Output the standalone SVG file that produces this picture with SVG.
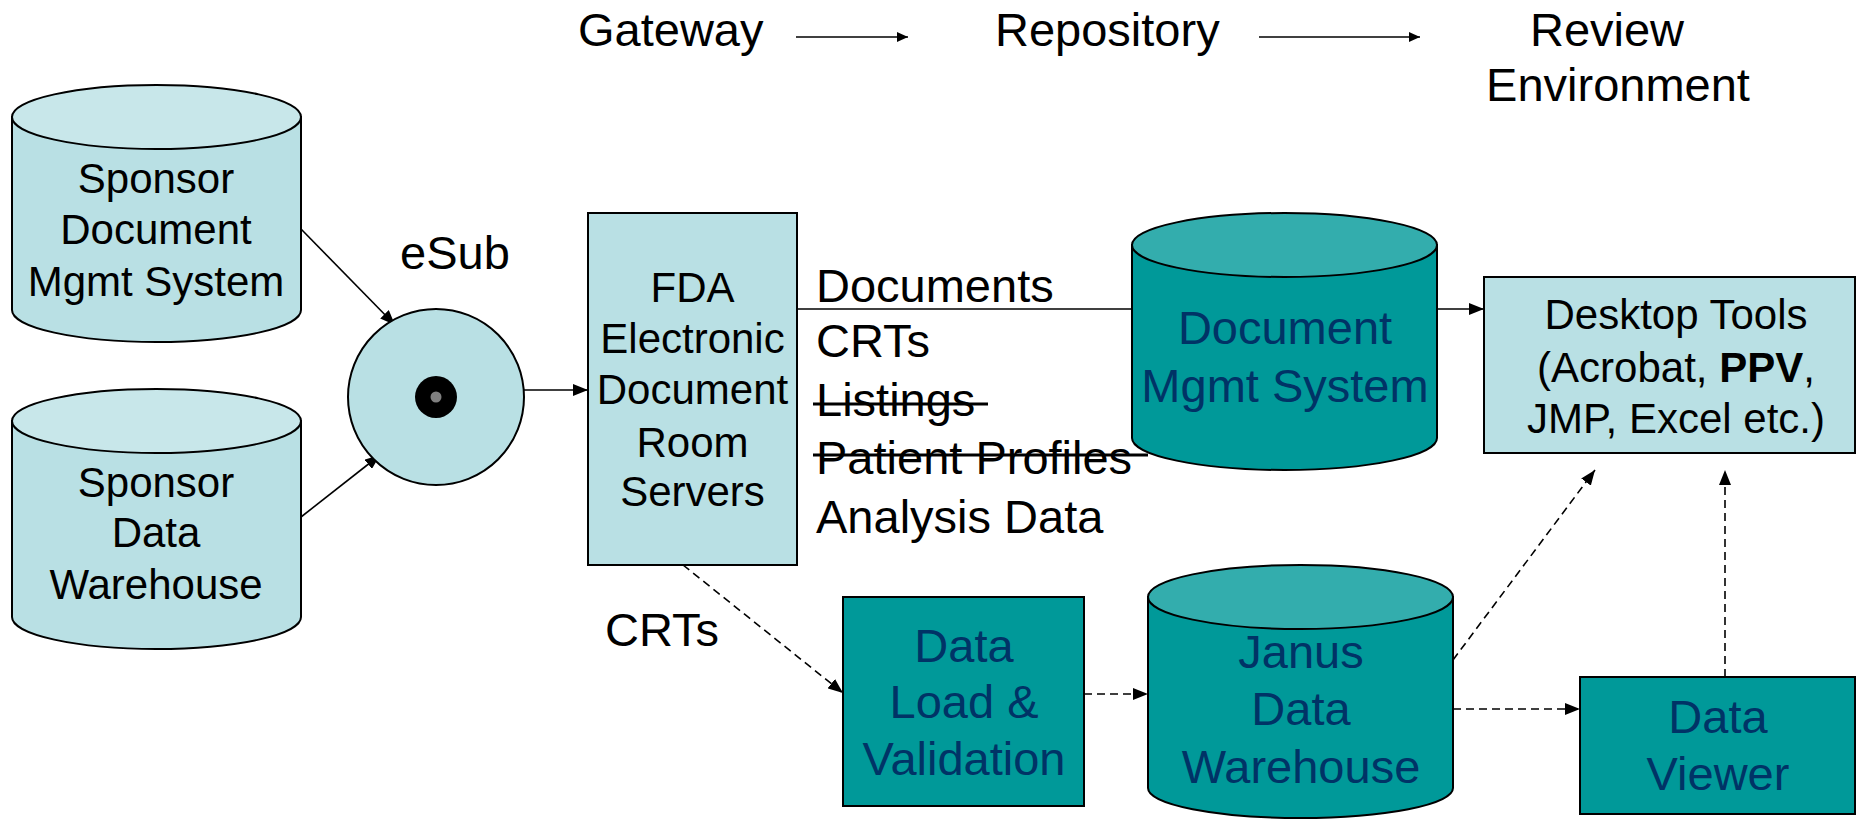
<svg xmlns="http://www.w3.org/2000/svg" width="1860" height="820" viewBox="0 0 1860 820">
  <defs>
    <marker id="arrow" markerUnits="userSpaceOnUse" markerWidth="16" markerHeight="12" refX="15" refY="6" orient="auto">
      <path d="M0,0 L15,6 L0,12 z" fill="#000"/>
    </marker>
    <marker id="arrowSmall" markerUnits="userSpaceOnUse" markerWidth="12" markerHeight="10" refX="11" refY="5" orient="auto">
      <path d="M0,0 L11,5 L0,10 z" fill="#000"/>
    </marker>
  </defs>
  <style>
    text { font-family: "Liberation Sans", Arial, sans-serif; fill: #000; }
    .c { text-anchor: middle; }
    .f42 { font-size: 42px; }
    .f47 { font-size: 47px; }
    .navy { fill: #003366; }
    .light { fill: #B9E0E4; stroke: #000; stroke-width: 2; }
    .lightTop { fill: #C8E7EA; stroke: #000; stroke-width: 2; }
    .teal { fill: #009999; stroke: #000; stroke-width: 2; }
    .tealTop { fill: #33ADAD; stroke: #000; stroke-width: 2; }
    .conn { stroke: #000; stroke-width: 1.6; fill: none; }
    .dash { stroke-dasharray: 8 5; }
    .strike { stroke: #000; stroke-width: 3; }
  </style>

  <!-- stage headings -->
  <g id="stages">
    <text class="f47" x="578" y="46">Gateway</text>
    <text class="f47" x="995" y="46">Repository</text>
    <text class="f47 c" x="1607" y="46">Review</text>
    <text class="f47 c" x="1618" y="101">Environment</text>
    <line class="conn" x1="796" y1="37" x2="908" y2="37" marker-end="url(#arrowSmall)"/>
    <line class="conn" x1="1259" y1="37" x2="1420" y2="37" marker-end="url(#arrowSmall)"/>
  </g>

  <!-- connectors -->
  <g id="connectors">
    <line class="conn" x1="301" y1="229" x2="395" y2="325" marker-end="url(#arrow)"/>
    <line class="conn" x1="301" y1="517" x2="380" y2="455" marker-end="url(#arrow)"/>
    <line class="conn" x1="524" y1="390" x2="588" y2="390" marker-end="url(#arrow)"/>
    <line class="conn" x1="797" y1="309" x2="1132" y2="309"/>
    <line class="conn" x1="1437" y1="309" x2="1484" y2="309" marker-end="url(#arrow)"/>
    <line class="conn dash" x1="683" y1="565" x2="843" y2="693" marker-end="url(#arrow)"/>
    <line class="conn dash" x1="1084" y1="694" x2="1148" y2="694" marker-end="url(#arrow)"/>
    <line class="conn dash" x1="1453" y1="709" x2="1580" y2="709" marker-end="url(#arrow)"/>
    <line class="conn dash" x1="1453" y1="660" x2="1595" y2="470" marker-end="url(#arrow)"/>
    <line class="conn dash" x1="1725" y1="677" x2="1725" y2="470" marker-end="url(#arrow)"/>
  </g>

  <!-- content carried from the document room to the repository -->
  <g id="content-list">
    <text class="f47" x="816" y="302">Documents</text>
    <text class="f47" x="816" y="357">CRTs</text>
    <text class="f47" x="816" y="416">Listings</text>
    <line class="strike" x1="813" y1="404" x2="988" y2="404"/>
    <text class="f47" x="816" y="474">Patient Profiles</text>
    <line class="strike" x1="813" y1="455" x2="1148" y2="455"/>
    <text class="f47" x="816" y="533">Analysis Data</text>
    <text class="f47" x="605" y="646">CRTs</text>
  </g>

  <g id="sponsor-dms">
    <path class="light" d="M12,117 V310 A144.5,32 0 0 0 301,310 V117 z"/>
    <ellipse class="lightTop" cx="156.5" cy="117" rx="144.5" ry="32"/>
    <text class="f42 c" x="156" y="193">Sponsor</text>
    <text class="f42 c" x="156" y="244">Document</text>
    <text class="f42 c" x="156" y="296">Mgmt System</text>
  </g>

  <g id="sponsor-dw">
    <path class="light" d="M12,421 V617 A144.5,32 0 0 0 301,617 V421 z"/>
    <ellipse class="lightTop" cx="156.5" cy="421" rx="144.5" ry="32"/>
    <text class="f42 c" x="156" y="497">Sponsor</text>
    <text class="f42 c" x="156" y="547">Data</text>
    <text class="f42 c" x="156" y="599">Warehouse</text>
  </g>

  <g id="esub">
    <text class="f47 c" x="455" y="269">eSub</text>
    <circle class="light" cx="436" cy="397" r="88"/>
    <circle cx="436" cy="397" r="21" fill="#000"/>
    <circle cx="436" cy="397" r="5.5" fill="#808080"/>
  </g>

  <g id="fda-edr">
    <rect class="light" x="588" y="213" width="209" height="352"/>
    <text class="f42 c" x="692.5" y="302">FDA</text>
    <text class="f42 c" x="692.5" y="353">Electronic</text>
    <text class="f42 c" x="692.5" y="404">Document</text>
    <text class="f42 c" x="692.5" y="457">Room</text>
    <text class="f42 c" x="692.5" y="506">Servers</text>
  </g>

  <g id="doc-mgmt">
    <path class="teal" d="M1132,245 V438 A152.5,32 0 0 0 1437,438 V245 z"/>
    <ellipse class="tealTop" cx="1284.5" cy="245" rx="152.5" ry="32"/>
    <text class="f47 c navy" x="1285" y="344">Document</text>
    <text class="f47 c navy" x="1285" y="402">Mgmt System</text>
  </g>

  <g id="desktop-tools">
    <rect class="light" x="1484" y="277" width="371" height="176"/>
    <text class="f42 c" x="1676" y="329">Desktop Tools</text>
    <text class="f42 c" x="1676" y="382">(Acrobat, <tspan font-weight="bold">PPV</tspan>,</text>
    <text class="f42 c" x="1676" y="433">JMP, Excel etc.)</text>
  </g>

  <g id="data-load">
    <rect class="teal" x="843" y="597" width="241" height="209"/>
    <text class="f47 c navy" x="964" y="662">Data</text>
    <text class="f47 c navy" x="964" y="718">Load &amp;</text>
    <text class="f47 c navy" x="964" y="775">Validation</text>
  </g>

  <g id="janus">
    <path class="teal" d="M1148,597 V788 A152.5,30 0 0 0 1453,788 V597 z"/>
    <ellipse class="tealTop" cx="1300.5" cy="597" rx="152.5" ry="32"/>
    <text class="f47 c navy" x="1301" y="668">Janus</text>
    <text class="f47 c navy" x="1301" y="725">Data</text>
    <text class="f47 c navy" x="1301" y="783">Warehouse</text>
  </g>

  <g id="data-viewer">
    <rect class="teal" x="1580" y="677" width="275" height="137"/>
    <text class="f47 c navy" x="1718" y="733">Data</text>
    <text class="f47 c navy" x="1718" y="790">Viewer</text>
  </g>
</svg>
